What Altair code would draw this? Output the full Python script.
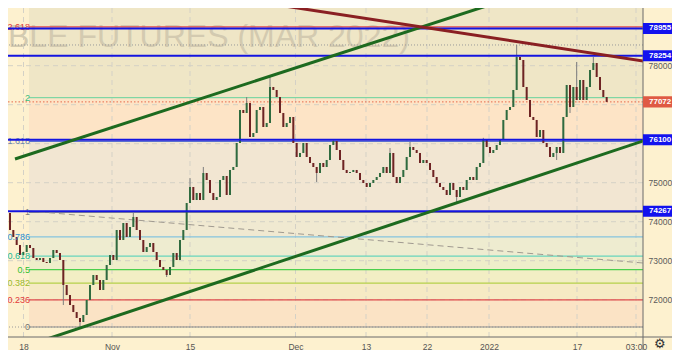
import altair as alt
import pandas as pd

# ---------------- data ----------------
# candle closes, one bar every ~0.38 trading day
closes = [
    74172, 74274, 74223, 73787, 73608, 73403, 73146, 73223, 73403, 73326,
    73069, 73018, 73069, 72967, 72941, 73069, 73274, 73197, 73018, 72377,
    72120, 71864, 71684, 71531, 71428, 71608, 71992, 72377, 72633, 72505,
    72249, 72505, 72890, 73146, 73018, 73787, 73531, 73967, 73608, 73864,
    74121, 73787, 73531, 73223, 73351, 73454, 73223, 73018, 72838, 72762,
    72633, 72838, 73197, 73018, 73531, 73787, 74479, 74890, 74556, 74736,
    74556, 75249, 75069, 74736, 74556, 74633, 75069, 75172, 74685, 75326,
    75403, 76018, 76864, 76787, 77044, 76172, 76274, 76864, 76941, 76428,
    76531, 77454, 77377, 77197, 76787, 76428, 76531, 76685, 76018, 75659,
    75762, 76018, 75659, 75505, 75403, 75249, 75505, 75403, 75582, 75967,
    76069, 75838, 75582, 75326, 75249, 75274, 75326, 75249, 75069, 74992,
    74890, 74992, 75069, 75146, 75249, 75403, 75249, 75762, 75146, 74992,
    75146, 75326, 75659, 75915, 75838, 75762, 75505, 75582, 75505, 75326,
    75146, 74992, 74890, 74813, 74685, 74992, 74813, 74633, 74890, 74813,
    75069, 75146, 75069, 75403, 75505, 76095, 75915, 75762, 75838, 75967,
    76095, 76608, 76864, 76941, 77377, 78223, 78146, 77454, 77121, 76685,
    76608, 76172, 76351, 76018, 75915, 75659, 75762, 75915, 75762, 76685,
    77505, 76941, 77454, 77121, 77633, 77121, 77454, 77890, 78069, 77710,
    77377, 77197, 77072,
]
first_open = 74120
wick_high_bars = [1, 40, 57, 61, 74, 81, 100, 117, 123, 145, 155, 173, 178]
wick_high_vals = [74300, 74223, 75121, 75403, 77197, 77710, 76120, 75890, 76044, 76150, 78531, 78095, 78223]
wick_low_bars = [19, 24, 50, 95, 137, 167, 171]
wick_low_vals = [71864, 71300, 72582, 75018, 74505, 75582, 76787]

# Fibonacci retracement
fib_levels = ["0", "0.236", "0.382", "0.5", "0.618", "0.786", "1", "1.618", "2", "2.618", "3.618"]
fib_prices = [71300, 71994, 72423, 72770, 73117, 73611, 74240, 76057, 77180, 78997, 81937]
fib_start_bar = 8.7
fib_line_colors = ["#8a8a8a", "#e04b4b", "#b5cf4a", "#4ccf4c", "#66d4bc", "#86c3de",
                   "#8a8a8a", "#5a6fd0", "#7fd6a4", "#e04b4b", "#e04b4b"]
fib_label_colors = ["#707070", "#e43a3a", "#9cba2c", "#30bf30", "#22b896", "#2f92d4",
                    "#808080", "#6f87b0", "#38bd7e", "#e03a3a", "#e03a3a"]
fib_band_colors = ["#fbe3c5", "#f6eac4", "#f2eec4", "#eeeeca", "#eeecd0",
                   "#f0e9d1", "#f2e6d2", "#fde4c6", "#efe6c6", "#efe6c6"]

# horizontal support/resistance lines and price tags
level_prices = [78955, 78254, 76100, 74267]
current_price = 77072
range_high = 78531
range_low = 71300

# trend lines (bar, price anchors)
green_a_bars, green_a_prices = [4.5, 160], [75608, 79921]
green_b_bars, green_b_prices = [12, 195], [70933, 76129]
maroon_bars, maroon_prices = [70, 195], [79731, 78094]
gray_bars, gray_prices = [8.7, 195], [74274, 72926]

# axes
x_tick_bars = [7.05, 33.6, 57.0, 88.65, 109.8, 128.1, 146.7, 173.1, 190.8]
x_tick_labels = ["18", "Nov", "15", "Dec", "13", "22", "2022", "17", "03:00"]
y_grid = [72000, 73000, 74000, 75000, 76000, 77000, 78000]
y_labels = [72000, 73000, 74000, 75000, 78000]   # 76000 / 77000 sit under the price tags
watermark = "BLE FUTURES (MAR 2022)"

# ---------------- build tables ----------------
opens = [first_open] + closes[:-1]
rows = []
for i, (o, c) in enumerate(zip(opens, closes)):
    rows.append({"bar": i, "open": o, "close": c,
                 "high": max(o, c), "low": min(o, c),
                 "dir": "up" if c >= o else "down"})
candles = pd.DataFrame(rows)
for b, v in zip(wick_high_bars, wick_high_vals):
    candles.loc[b, "high"] = max(v, candles.loc[b, "high"])
for b, v in zip(wick_low_bars, wick_low_vals):
    candles.loc[b, "low"] = min(v, candles.loc[b, "low"])

bands = pd.DataFrame({
    "start": [fib_start_bar] * (len(fib_prices) - 1),
    "lo": fib_prices[:-1], "hi": fib_prices[1:], "c": fib_band_colors,
})
fibs = pd.DataFrame({"start": fib_start_bar, "price": fib_prices, "level": fib_levels,
                     "lc": fib_line_colors, "tc": fib_label_colors})
fib_lbl = fibs[fibs["level"] != "3.618"]

W, H = 635, 329
xs = alt.Scale(domain=[2.4, 192.9], nice=False, zero=False)
ys = alt.Scale(domain=[71044, 79479], nice=False, zero=False)
FONT = "Liberation Sans"

label_expr = " : ".join(f"datum.value == {b} ? '{t}'" for b, t in zip(x_tick_bars, x_tick_labels)) + " : ''"
X_AXIS = alt.Axis(
    values=x_tick_bars, labelExpr=label_expr, grid=False, ticks=False, tickSize=0,
    domain=False, labelPadding=5, labelFontSize=8.5, labelColor="#555555", labelFont=FONT,
    labelFontWeight={"condition": {"test": "datum.label == '2022'", "value": "bold"},
                     "value": "normal"}, title=None)
Y_AXIS = alt.Axis(
    orient="right", values=y_labels, format="d", grid=False, ticks=False, tickSize=0,
    domain=False, labelPadding=5, labelFontSize=8.5, labelColor="#5a5a5a", labelFont=FONT,
    title=None)


def X(f):
    return alt.X(f, type="quantitative", scale=xs, axis=X_AXIS, title=None)


def Y(f):
    return alt.Y(f, type="quantitative", scale=ys, axis=Y_AXIS, title=None)


band_layer = alt.Chart(bands).mark_rect(clip=True).encode(
    x=X("start"), x2=alt.value(W), y=Y("lo"), y2="hi:Q", color=alt.Color("c:N", scale=None))

hgrid = alt.Chart(pd.DataFrame({"v": y_grid})).mark_rule(
    color="#d4d1c6", strokeDash=[5, 4], strokeWidth=1).encode(y=Y("v"))

vgrid = alt.Chart(pd.DataFrame({"b": x_tick_bars})).mark_rule(
    color="#d4d1c6", strokeDash=[5, 4], strokeWidth=1).encode(x=X("b"))

wm = alt.Chart(pd.DataFrame({"t": [watermark]})).mark_text(
    align="left", baseline="alphabetic", fontSize=32, font=FONT, color="#d3cab0").encode(
    text="t:N", x=alt.value(0), y=alt.value(39))

fib_lines = alt.Chart(fibs).mark_rule(clip=True, strokeWidth=1.2).encode(
    x=X("start"), x2=alt.value(W), y=Y("price"), color=alt.Color("lc:N", scale=None))

hl_lines = alt.Chart(pd.DataFrame({"p": [range_high, range_low]})).mark_rule(
    color="#9a9a9a", strokeDash=[1, 2], strokeWidth=1).encode(y=Y("p"))
cur_line = alt.Chart(pd.DataFrame({"p": [current_price]})).mark_rule(
    color="#e8684a", strokeDash=[1.5, 2], strokeWidth=1).encode(y=Y("p"))

gray_diag = alt.Chart(pd.DataFrame({"bar": gray_bars, "price": gray_prices})).mark_line(
    clip=True, color="#a09a90", strokeDash=[6, 4], strokeWidth=1).encode(x=X("bar"), y=Y("price"))

wicks = alt.Chart(candles).mark_rule(clip=True, color="#7d7d7d", strokeWidth=1).encode(
    x=X("bar"), y=Y("low"), y2="high:Q")
bodies = alt.Chart(candles).mark_rule(clip=True, strokeWidth=2).encode(
    x=X("bar"), y=Y("open"), y2="close:Q",
    color=alt.Color("dir:N", scale=alt.Scale(domain=["up", "down"], range=["#2f6b3f", "#6e2323"]),
                    legend=None))

fib_labels = alt.Chart(fib_lbl).mark_text(
    align="right", baseline="middle", dx=1, fontSize=9, font=FONT).encode(
    x=X("start"), y=Y("price"), text="level:N", color=alt.Color("tc:N", scale=None))

blue_lines = alt.Chart(pd.DataFrame({"p": level_prices})).mark_rule(
    color="#1414e0", strokeWidth=2).encode(y=Y("p"))

trend_df = pd.DataFrame({
    "bar": green_a_bars + green_b_bars + maroon_bars,
    "price": green_a_prices + green_b_prices + maroon_prices,
    "id": ["a", "a", "b", "b", "m", "m"],
    "c": ["#1d6a1f"] * 4 + ["#8a1f22"] * 2,
})
trends = alt.Chart(trend_df).mark_line(clip=True, strokeWidth=3).encode(
    x=X("bar"), y=Y("price"), detail="id:N", color=alt.Color("c:N", scale=None))

vborder = alt.Chart(pd.DataFrame({"k": [0]})).mark_rule(color="#6b6b6b", strokeWidth=1).encode(
    x=alt.value(W), y=alt.value(-10), y2=alt.value(H + 20))
hborder = alt.Chart(pd.DataFrame({"k": [0]})).mark_rule(color="#6b6b6b", strokeWidth=1).encode(
    y=alt.value(H), x=alt.value(-10), x2=alt.value(W + 40))

tags = pd.DataFrame({
    "price": level_prices + [current_price],
    "label": [str(p) for p in level_prices] + [str(current_price)],
    "c": ["#1212ee"] * 4 + ["#df5a44"],
})
tag_box = alt.Chart(tags).mark_point(
    shape="M-1,-0.3L1,-0.3L1,0.3L-1,0.3Z", size=1369, filled=True, opacity=1, strokeWidth=0).encode(
    x=alt.value(W + 18.5), y=Y("price"), color=alt.Color("c:N", scale=None))
tag_txt = alt.Chart(tags).mark_text(
    color="white", fontWeight="bold", fontSize=8, font=FONT, baseline="middle", align="left").encode(
    x=alt.value(W + 6), y=Y("price"), text="label:N")

gear = alt.Chart(pd.DataFrame({"t": ["⚙"]})).mark_text(fontSize=13, color="#333333").encode(
    text="t:N", x=alt.value(W + 17), y=alt.value(H + 7))

chart = alt.layer(
    band_layer, hgrid, vgrid, wm, fib_lines, hl_lines, cur_line, gray_diag,
    wicks, bodies, fib_labels, blue_lines, trends, vborder, hborder, tag_box, tag_txt, gear,
).properties(
    width=W, height=H,
    padding={"left": 0, "top": 0, "right": 29, "bottom": 13},
    autosize=alt.AutoSizeParams(type="none"),
    background="#fdf1cf",
).configure_view(stroke=None, fill="#fdf1cf")

chart.save("out.html", embed_options={"renderer": "svg", "actions": False})
